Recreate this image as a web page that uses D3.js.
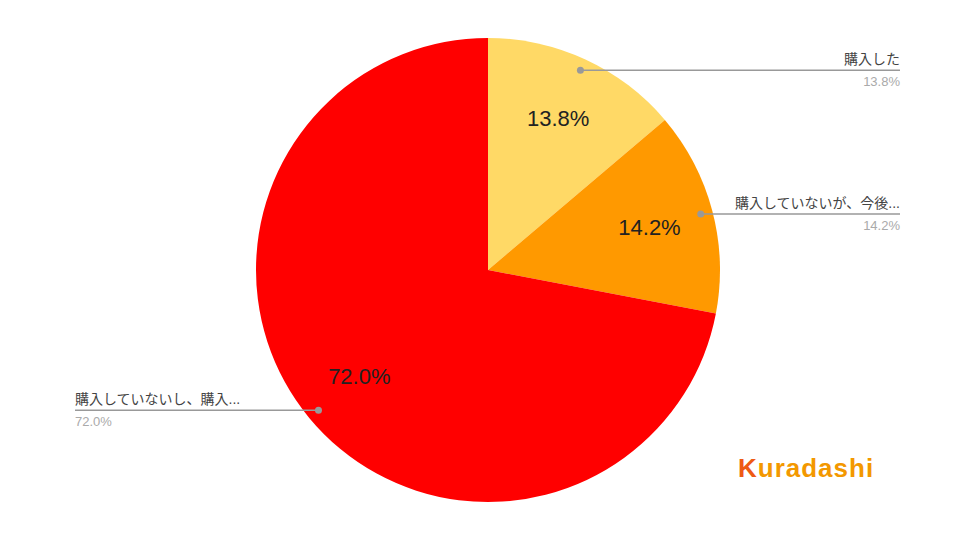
<!DOCTYPE html>
<html>
<head>
<meta charset="utf-8">
<script src="https://d3js.org/d3.v7.min.js"></script>
<style>
  body { margin: 0; background: #fff; }
  text { font-family: "Liberation Sans", Arial, "Noto Sans CJK JP", sans-serif; }
</style>
</head>
<body>
<svg width="960" height="540"></svg>
<script>
const categories = ["購入した", "購入していないが、今後...", "購入していないし、購入..."];
const values = [13.8, 14.2, 72.0];
const colors = ["#FFD966", "#FF9900", "#FF0000"];
const labelText = ["13.8%", "14.2%", "72.0%"];

const svg = d3.select("svg");
const cx = 488, cy = 270, R = 232;

const data = categories.map((c, i) => ({ name: c, value: values[i], color: colors[i], label: labelText[i] }));
const pie = d3.pie().sort(null).value(d => d.value);
const arcs = pie(data);
const arc = d3.arc().innerRadius(0).outerRadius(R);
const labelArc = d3.arc().innerRadius(167).outerRadius(167);
const dotArc = d3.arc().innerRadius(220).outerRadius(220);

const g = svg.append("g").attr("transform", `translate(${cx},${cy})`);

g.selectAll("path.slice").data(arcs).enter().append("path")
  .attr("class", "slice")
  .attr("d", arc)
  .attr("fill", d => d.data.color);

g.selectAll("text.inner").data(arcs).enter().append("text")
  .attr("class", "inner")
  .attr("transform", d => `translate(${labelArc.centroid(d)})`)
  .attr("text-anchor", "middle")
  .attr("dy", "0.35em")
  .attr("font-size", 22)
  .attr("fill", "#222")
  .text(d => d.data.label);

// leader lines + outer labels
arcs.forEach(d => {
  const [px, py] = dotArc.centroid(d);
  const right = px > 0;
  const endX = right ? 900 - cx : 75 - cx;
  g.append("line")
    .attr("x1", px).attr("y1", py).attr("x2", endX).attr("y2", py)
    .attr("stroke", "#999").attr("stroke-width", 1.5);
  g.append("circle").attr("cx", px).attr("cy", py).attr("r", 3.5).attr("fill", "#999");
  g.append("text")
    .attr("x", endX).attr("y", py - 6)
    .attr("text-anchor", right ? "end" : "start")
    .attr("font-size", 14).attr("fill", "#444")
    .text(d.data.name);
  g.append("text")
    .attr("x", endX).attr("y", py + 16)
    .attr("text-anchor", right ? "end" : "start")
    .attr("font-size", 13).attr("fill", "#aaa")
    .text(d.data.label);
});

// logo
const logo = svg.append("text")
  .attr("x", 738).attr("y", 477)
  .attr("font-size", 26).attr("font-weight", "bold")
  .attr("letter-spacing", 1)
  .attr("fill", "#F39800");
logo.append("tspan").attr("fill", "#EE5A14").text("K");
logo.append("tspan").text("uradashi");
</script>
</body>
</html>
